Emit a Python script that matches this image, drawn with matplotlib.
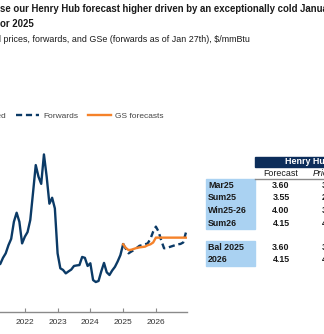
import numpy as np
import matplotlib
matplotlib.use('Agg')
import matplotlib.pyplot as plt
from matplotlib.patches import Rectangle

# monthly Henry Hub realized prices ($/mmBtu), Mar 2021 - Jan 2025
realized_start = (2021, 3)
realized = [2.60, 2.66, 3.00, 3.25, 3.70, 4.05, 5.00, 5.50, 5.00, 3.80,
            4.17, 4.43, 5.10, 6.60, 8.14, 7.50, 7.10, 8.73, 7.50, 6.00, 6.33, 5.74,
            3.25, 2.42, 2.33, 2.14, 2.25, 2.35, 2.55, 2.58, 2.60, 3.05, 3.00, 2.55,
            2.70, 1.77, 1.66, 1.72, 2.25, 2.72, 2.20, 2.05, 2.30, 2.50, 2.80, 3.15,
            3.75]

# forwards as of Jan 27th, Jan 2025 - Dec 2026
forwards_start = (2025, 1)
forwards = [3.75, 3.50, 3.25, 3.35, 3.43, 3.55, 3.67, 3.70, 3.75, 3.80, 4.05, 4.45,
            4.73, 4.45, 3.95, 3.53, 3.55, 3.60, 3.65, 3.70, 3.75, 3.77, 3.85, 4.40]

# GS forecasts, Jan 2025 - Dec 2026
gs_start = (2025, 1)
gs = [3.75, 3.55, 3.43, 3.45, 3.50, 3.55, 3.58, 3.60, 3.62, 3.70, 3.75, 3.85,
      4.12, 4.12, 4.12, 4.12, 4.12, 4.12, 4.12, 4.12, 4.12, 4.12, 4.12, 4.12]

years = [2022, 2023, 2024, 2025, 2026]

# table
row_labels = ['Mar25', 'Sum25', 'Win25-26', 'Sum26', 'Bal 2025', '2026']
gs_fcst = ['3.60', '3.55', '4.00', '4.15', '3.60', '4.15']
prior_fcst = ['3.10', '2.95', '3.40', '4.00', '3.05', '4.00']

NAVY = '#0b3a66'
ORANGE = '#f5822a'
FONT = 'Liberation Sans'
W, H = 324, 334


def months(start, n):
    y, m = start
    return np.array([y + (m - 1 + i) / 12 for i in range(n)])


def fx(x):
    return x / W


def fy(y):
    return 1 - y / H


fig = plt.figure(figsize=(W / 100, H / 100), dpi=100)

# plot area in pixels: x 2020.0 -> -40.7px, 2026.95 -> 187px; y 0 -> 312px, 10 -> 131.5px
left, right, bottom, top = -40.7, 187, 312, 131.5
ax = fig.add_axes([fx(left), fy(bottom), (right - left) / W, (bottom - top) / H])
ax.set_xlim(2020.0, 2026.95)
ax.set_ylim(0, 10)

ax.plot(months(realized_start, len(realized)), realized, color=NAVY, lw=1.7,
        label='Realized', solid_joinstyle='round')
ax.plot(months(forwards_start, len(forwards)), forwards, color=NAVY, lw=1.7,
        dashes=(2.6, 1.6), label='Forwards')
ax.plot(months(gs_start, len(gs)), gs, color=ORANGE, lw=1.7, label='GS forecasts')

for s in ['left', 'right', 'top']:
    ax.spines[s].set_visible(False)
ax.spines['bottom'].set_color('#8a8a8a')
ax.spines['bottom'].set_linewidth(1)
ax.set_yticks([])
ax.set_xticks(years)
ax.set_xticklabels([str(y) for y in years], fontsize=6, color='#333333', family=FONT)
ax.tick_params(axis='x', direction='in', length=3, color='#8a8a8a', pad=5)

leg = ax.legend(loc='center left', bbox_to_anchor=(fx(-54), fy(116)),
                bbox_transform=fig.transFigure, ncol=3, frameon=False,
                prop={'family': FONT, 'size': 6},
                handlelength=2.75, handletextpad=0.5, columnspacing=1.2,
                borderpad=0, borderaxespad=0)
for t in leg.get_texts():
    t.set_color('#444444')

# titles (left part of the page is cut off)
fig.text(fx(0), fy(9), 'se our Henry Hub forecast higher driven by an exceptionally cold January',
         fontsize=6.9, fontweight='bold', family=FONT,
         color='#1a1a1a', va='center', ha='left')
fig.text(fx(0), fy(24), 'or 2025', fontsize=6.9, fontweight='bold',
         family=FONT, color='#1a1a1a', va='center', ha='left')
fig.text(fx(-3.5), fy(39), 'd prices, forwards, and GSe (forwards as of Jan 27th), $/mmBtu',
         fontsize=6.4, family=FONT, color='#1a1a1a', va='center', ha='left')

# table
fig.patches.append(Rectangle((fx(255), fy(167)), fx(120), 10 / H,
                             transform=fig.transFigure, color='#0c2d5a'))
fig.text(fx(285), fy(162), 'Henry Hub', color='white', fontsize=6.4,
         fontweight='bold', family=FONT, va='center', ha='left')
fig.text(fx(281), fy(173.5), 'Forecast', fontsize=6.4, family=FONT,
         color='#1a1a1a', va='center', ha='center')
fig.text(fx(313), fy(173.5), 'Prior', fontsize=6.4, family=FONT,
         style='italic', color='#1a1a1a', va='center', ha='left')
fig.lines.append(plt.Line2D([fx(255), fx(324)], [fy(179), fy(179)],
                            transform=fig.transFigure, color='#8a8a8a', lw=1))

fig.patches.append(Rectangle((fx(206), fy(229)), fx(49), 50 / H,
                             transform=fig.transFigure, color='#aad2f2'))
fig.patches.append(Rectangle((fx(206), fy(266)), fx(49), 25 / H,
                             transform=fig.transFigure, color='#aad2f2'))

row_y = [185.5, 198, 210.5, 223, 247.5, 259.5]
for lab, f, p, y in zip(row_labels, gs_fcst, prior_fcst, row_y):
    fig.text(fx(208), fy(y), lab, fontsize=6.4, fontweight='bold',
             family=FONT, color='#1a1a1a', va='center', ha='left')
    fig.text(fx(281), fy(y), f, fontsize=6.4, fontweight='bold',
             family=FONT, color='#1a1a1a', va='center', ha='center')
    fig.text(fx(322), fy(y), p, fontsize=6.4, fontweight='bold',
             family=FONT, color='#1a1a1a', va='center', ha='left')

fig.savefig('out.png', dpi=100)
